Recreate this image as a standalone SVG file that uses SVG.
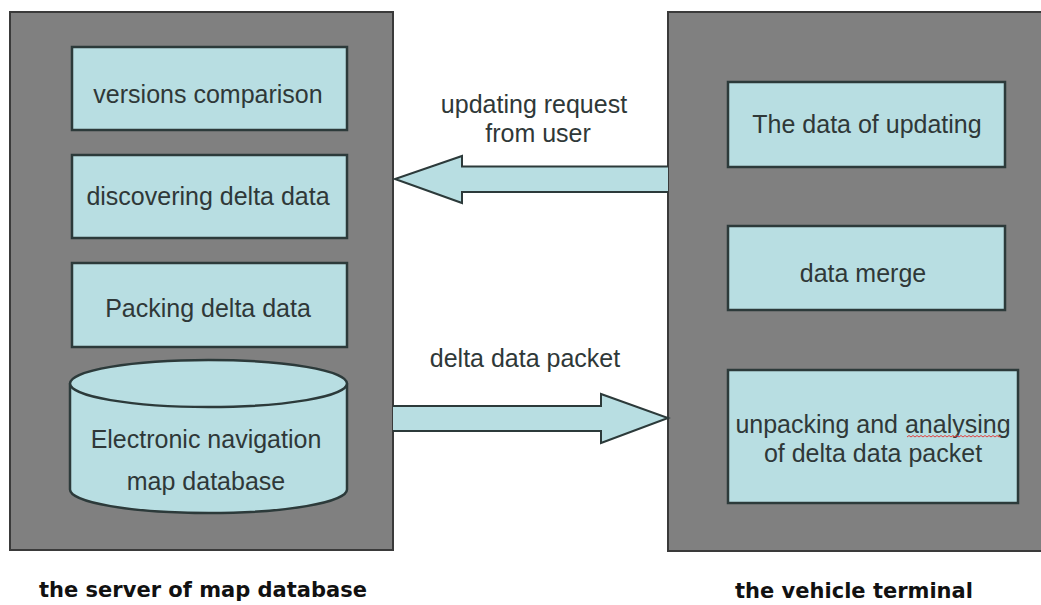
<svg xmlns="http://www.w3.org/2000/svg" width="1041" height="605" viewBox="0 0 1041 605">
<style>
.panel{fill:#808080;stroke:#3a3a3a;stroke-width:2}
.box{fill:#b8dee2;stroke:#2c3a3a;stroke-width:2.5}
.t{font-family:"Liberation Sans",Arial,sans-serif;font-size:25px;fill:#2f3838;text-anchor:middle}
.cap{font-family:"DejaVu Sans",Verdana,sans-serif;font-weight:bold;font-size:21px;fill:#111;text-anchor:middle}
.arrow{fill:#b8dee2;stroke:#2c3a3a;stroke-width:2;stroke-linejoin:miter}
</style>
<rect width="1041" height="605" fill="#fff"/>
<g id="server">
<rect class="panel" x="10" y="12" width="383" height="538"/>
<text class="cap" x="203" y="597">the server of map database</text>
</g>
<g id="terminal">
<rect class="panel" x="668" y="12" width="380" height="539"/>
<text class="cap" x="854" y="598">the vehicle terminal</text>
</g>
<g id="versions-comparison">
<rect class="box" x="72" y="47" width="275" height="83"/>
<text class="t" x="208" y="103">versions comparison</text>
</g>
<g id="discovering-delta">
<rect class="box" x="72" y="155" width="275" height="83"/>
<text class="t" x="208" y="205">discovering delta data</text>
</g>
<g id="packing-delta">
<rect class="box" x="72" y="263" width="275" height="84"/>
<text class="t" x="208" y="317">Packing delta data</text>
</g>
<g id="map-database">
<path class="box" d="M70,383.5 L70,489.5 A138.5,23.5 0 0 0 347,489.5 L347,383.5"/>
<ellipse class="box" cx="208.5" cy="383.5" rx="138.5" ry="23.5"/>
<text class="t" x="206" y="448">Electronic navigation</text>
<text class="t" x="206" y="490">map database</text>
</g>
<g id="data-of-updating">
<rect class="box" x="728" y="82" width="277" height="85"/>
<text class="t" x="867" y="133">The data of updating</text>
</g>
<g id="data-merge">
<rect class="box" x="728" y="226" width="277" height="84"/>
<text class="t" x="863" y="282">data merge</text>
</g>
<g id="unpacking">
<rect class="box" x="728" y="370" width="290" height="133"/>
<text class="t" x="873" y="433">unpacking and analysing</text>
<text class="t" x="873" y="462">of delta data packet</text>
<path d="M907,437 l2,-1.5 l2,1.5 l2,-1.5 l2,1.5 l2,-1.5 l2,1.5 l2,-1.5 l2,1.5 l2,-1.5 l2,1.5 l2,-1.5 l2,1.5 l2,-1.5 l2,1.5 l2,-1.5 l2,1.5 l2,-1.5 l2,1.5 l2,-1.5 l2,1.5 l2,-1.5 l2,1.5 l2,-1.5 l2,1.5 l2,-1.5 l2,1.5 l2,-1.5 l2,1.5 l2,-1.5 l2,1.5 l2,-1.5 l2,1.5 l2,-1.5 l2,1.5 l2,-1.5 l2,1.5 l2,-1.5 l2,1.5 l2,-1.5 l2,1.5 l2,-1.5 l2,1.5 l2,-1.5 l2,1.5 l2,-1.5 l2,1.5 l2,-1.5" fill="none" stroke="#e04040" stroke-width="1"/>
</g>
<g id="connectors">
<path class="arrow" d="M668,166.5 L462,166.5 L462,156 L395,179 L462,203 L462,192 L668,192"/>
<path class="arrow" d="M393,406 L601,406 L601,394 L668,418 L601,443 L601,431 L393,431"/>
<text class="t" x="534" y="113">updating request</text>
<text class="t" x="538" y="142">from user</text>
<text class="t" x="525" y="367">delta data packet</text>
</g>
</svg>
